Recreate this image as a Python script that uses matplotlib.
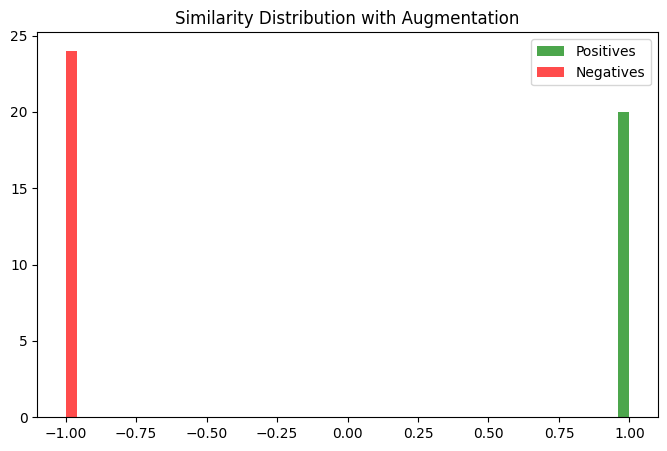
import numpy as np
import matplotlib
matplotlib.use("Agg")
import matplotlib.pyplot as plt

# cosine similarities
positive_sims = [1.0] * 20
negative_sims = [-1.0] * 24
n_bins = 50
sim_range = (-1.0, 1.0)

fig = plt.figure(figsize=(6.67, 4.51), dpi=100)
ax = fig.add_axes([0.056, 0.075, 0.93, 0.853])

ax.hist(positive_sims, bins=n_bins, range=sim_range, alpha=0.7, color='green', label='Positives')
ax.hist(negative_sims, bins=n_bins, range=sim_range, alpha=0.7, color='red', label='Negatives')

ax.set_title("Similarity Distribution with Augmentation")
ax.legend(loc='upper right')

fig.savefig("out.png", dpi=100)
